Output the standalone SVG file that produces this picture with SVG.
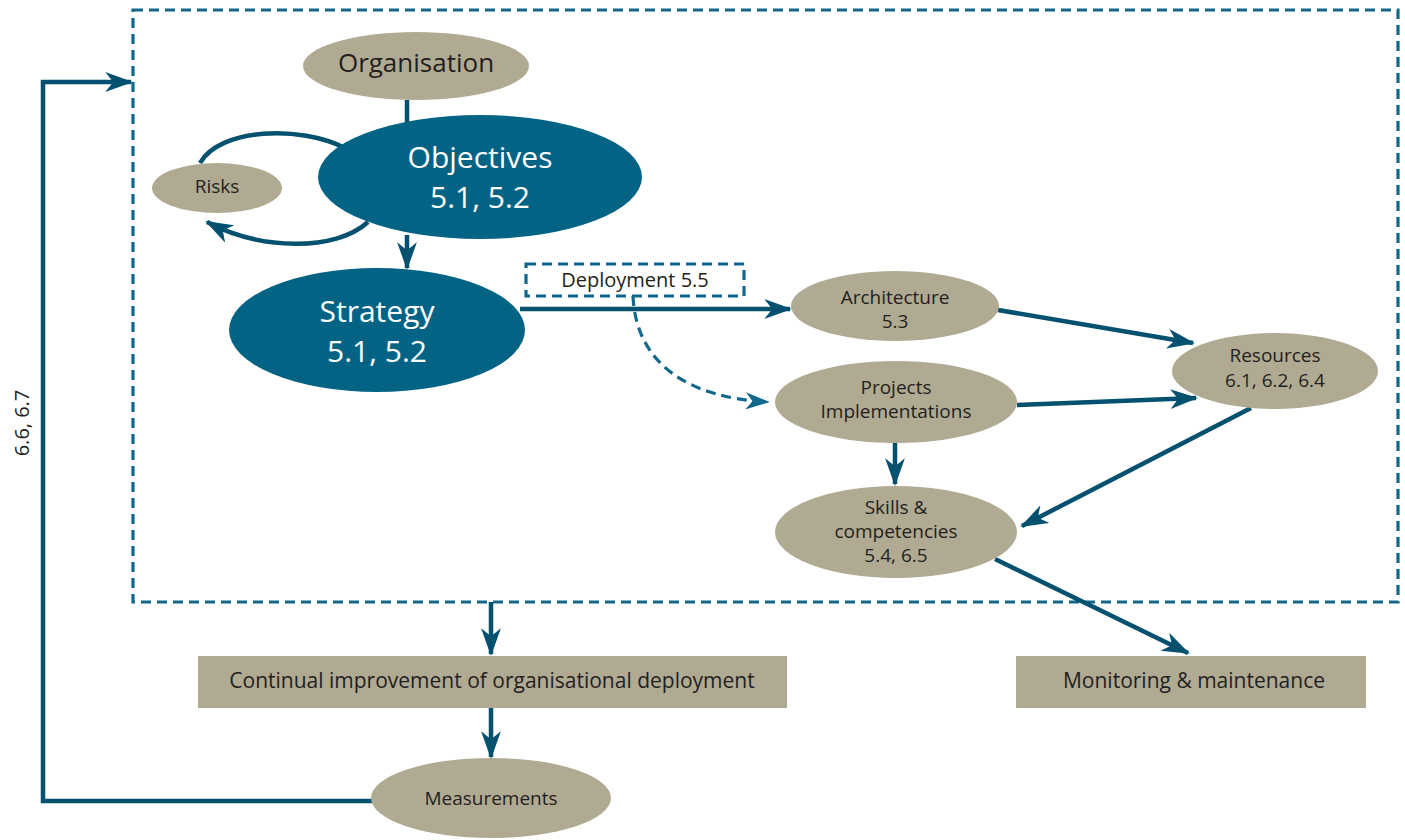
<svg xmlns="http://www.w3.org/2000/svg" width="1405" height="840" viewBox="0 0 1405 840">
<style>
text{font-family:"Open Sans","Noto Sans",sans-serif;fill:#231f20;text-anchor:middle}
.w{fill:#ffffff}
.tan{fill:#b1aa93}
.blue{fill:#036384}
.c{fill:none;stroke:#03506f;stroke-width:4.5}
.d{fill:none;stroke:#11688a;stroke-width:3.2;stroke-dasharray:10 6}
.s{font-size:19px}
</style>
<defs>
<marker id="ah" viewBox="0 0 14 10" refX="13" refY="5" markerWidth="6.2" markerHeight="4.4" orient="auto" markerUnits="strokeWidth">
<path d="M0,0 L14,5 L0,10 L4,5 z" fill="#03506f"/>
</marker>
<marker id="ahd" viewBox="0 0 14 10" refX="13" refY="5" markerWidth="7.6" markerHeight="5.4" orient="auto" markerUnits="strokeWidth">
<path d="M0,0 L14,5 L0,10 L4,5 z" fill="#11688a"/>
</marker>
</defs>
<rect x="0" y="0" width="1405" height="840" fill="#ffffff"/>
<g id="frame">
<rect x="133" y="10" width="1265" height="592" fill="#e8e5de" class="d"/>
</g>
<g id="connectors">
<line class="c" x1="407" y1="100" x2="407" y2="125"/>
<line class="c" x1="407" y1="235" x2="407" y2="268" marker-end="url(#ah)"/>
<path class="c" d="M200,163 C220,128 300,125 345,148"/>
<path class="c" d="M368,222 C335,252 260,250 207,222" marker-end="url(#ah)"/>
<line class="c" x1="520" y1="309" x2="790" y2="309" marker-end="url(#ah)"/>
<path class="d" d="M633,296 C636,365 690,398 768,402" marker-end="url(#ahd)"/>
<line class="c" x1="998" y1="310" x2="1193" y2="343" marker-end="url(#ah)"/>
<line class="c" x1="1017" y1="405" x2="1196" y2="398" marker-end="url(#ah)"/>
<line class="c" x1="895" y1="443" x2="895" y2="484" marker-end="url(#ah)"/>
<line class="c" x1="1251" y1="408" x2="1022" y2="526" marker-end="url(#ah)"/>
<line class="c" x1="995" y1="559" x2="1188" y2="653" marker-end="url(#ah)"/>
<line class="c" x1="491" y1="602" x2="491" y2="654" marker-end="url(#ah)"/>
<line class="c" x1="491" y1="708" x2="491" y2="757" marker-end="url(#ah)"/>
<path class="c" d="M372,801 L43,801 L43,82 L131,82" marker-end="url(#ah)"/>
</g>
<g id="organisation">
<ellipse class="tan" cx="416" cy="66" rx="113" ry="34"/>
<text x="416" y="72" font-size="26">Organisation</text>
</g>
<g id="risks">
<ellipse class="tan" cx="217" cy="188" rx="65" ry="25"/>
<text x="217" y="193" font-size="19">Risks</text>
</g>
<g id="objectives">
<ellipse class="blue" cx="480" cy="177" rx="162" ry="62"/>
<text class="w" x="480" y="168" font-size="30">Objectives</text>
<text class="w" x="480" y="208" font-size="30">5.1, 5.2</text>
</g>
<g id="strategy">
<ellipse class="blue" cx="377" cy="330" rx="148" ry="62"/>
<text class="w" x="377" y="322" font-size="30">Strategy</text>
<text class="w" x="377" y="362" font-size="30">5.1, 5.2</text>
</g>
<g id="deployment">
<rect x="526" y="264" width="218" height="32" fill="#e8e5de" class="d" stroke-width="2.5"/>
<text x="635" y="287" font-size="20">Deployment 5.5</text>
</g>
<g id="architecture">
<ellipse class="tan" cx="895" cy="306" rx="104" ry="35"/>
<text class="s" x="895" y="304">Architecture</text>
<text class="s" x="895" y="328">5.3</text>
</g>
<g id="resources">
<ellipse class="tan" cx="1275" cy="371" rx="103" ry="38"/>
<text class="s" x="1275" y="362">Resources</text>
<text class="s" x="1275" y="387">6.1, 6.2, 6.4</text>
</g>
<g id="projects">
<ellipse class="tan" cx="896" cy="402" rx="121" ry="41"/>
<text class="s" x="896" y="394">Projects</text>
<text class="s" x="896" y="418">Implementations</text>
</g>
<g id="skills">
<ellipse class="tan" cx="896" cy="532" rx="121" ry="46"/>
<text class="s" x="896" y="514">Skills &amp;</text>
<text class="s" x="896" y="538">competencies</text>
<text class="s" x="896" y="562">5.4, 6.5</text>
</g>
<g id="continual">
<rect class="tan" x="198" y="656" width="589" height="52"/>
<text x="492" y="688" font-size="21">Continual improvement of organisational deployment</text>
</g>
<g id="monitoring">
<rect class="tan" x="1016" y="656" width="350" height="52"/>
<text x="1194" y="688" font-size="21">Monitoring &amp; maintenance</text>
</g>
<g id="measurements">
<ellipse class="tan" cx="491" cy="798" rx="120" ry="40"/>
<text class="s" x="491" y="805">Measurements</text>
</g>
<g id="label-66">
<text x="0" y="0" font-size="20" transform="translate(29,423) rotate(-90)">6.6, 6.7</text>
</g>
</svg>
